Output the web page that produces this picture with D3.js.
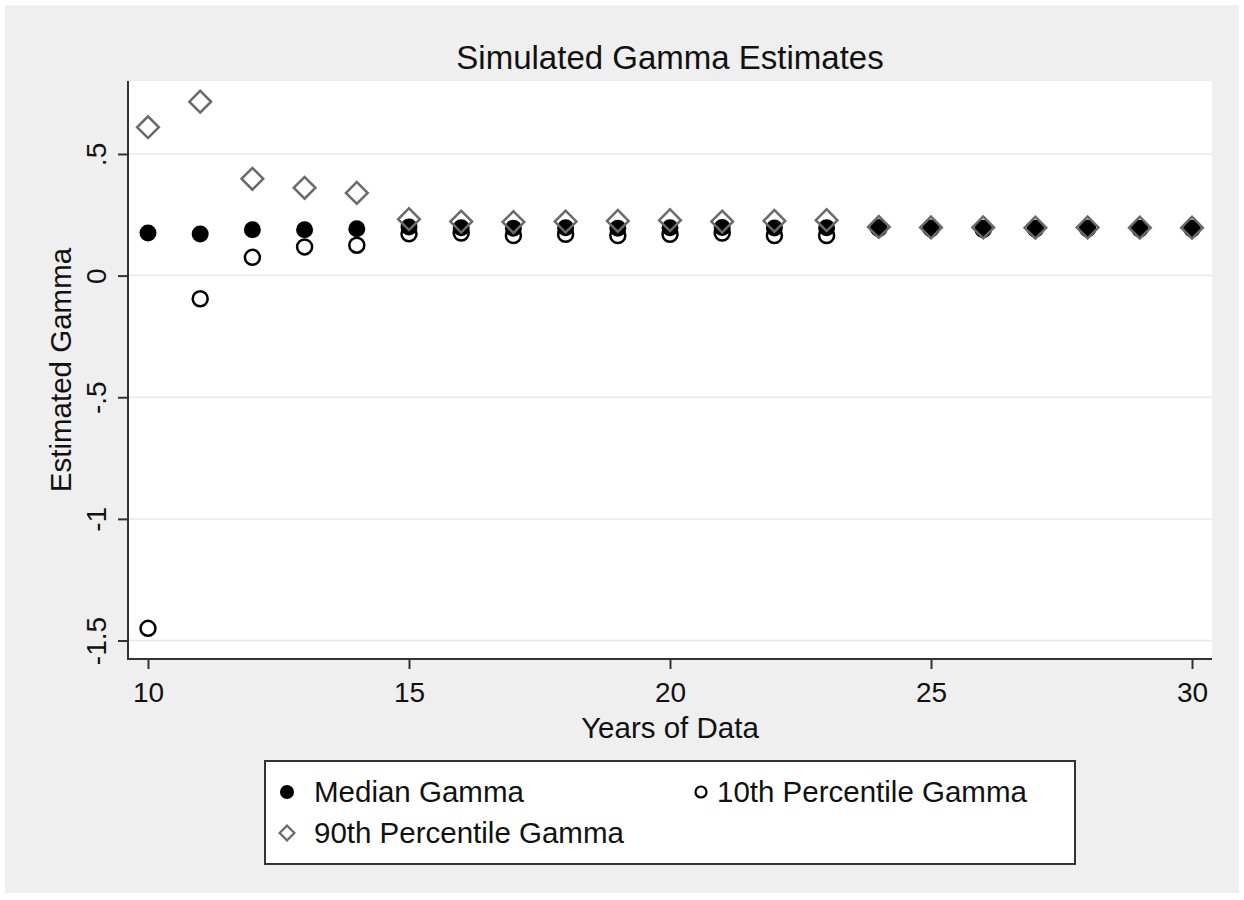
<!DOCTYPE html>
<html>
<head>
<meta charset="utf-8">
<script src="https://cdn.jsdelivr.net/npm/d3@7"></script>
<style>
  body { margin: 0; background: #ffffff; }
  svg { display: block; font-family: "Liberation Sans", Arial, Helvetica, sans-serif; }
</style>
</head>
<body>
<div id="chart"></div>
<script>
// chart values
const years = [10, 11, 12, 13, 14, 15, 16, 17, 18, 19, 20, 21, 22, 23, 24, 25, 26, 27, 28, 29, 30];
const medianGamma = [0.175, 0.171, 0.189, 0.189, 0.193, 0.200, 0.197, 0.195, 0.197, 0.195, 0.197, 0.198, 0.196, 0.197, 0.198, 0.196, 0.195, 0.195, 0.196, 0.195, 0.195];
const p10Gamma = [-1.45, -0.095, 0.075, 0.118, 0.125, 0.172, 0.175, 0.165, 0.170, 0.165, 0.170, 0.175, 0.165, 0.165, 0.194, 0.193, 0.190, 0.192, 0.193, 0.192, 0.192];
const p90Gamma = [0.61, 0.715, 0.398, 0.361, 0.340, 0.232, 0.222, 0.220, 0.222, 0.225, 0.228, 0.222, 0.225, 0.228, 0.200, 0.198, 0.198, 0.197, 0.198, 0.197, 0.197];
const xTicks = [10, 15, 20, 25, 30];
const yTicks = [0.5, 0, -0.5, -1, -1.5];
const yTickLabels = [".5", "0", "-.5", "-1", "-1.5"];
const seriesNames = ["Median Gamma", "10th Percentile Gamma", "90th Percentile Gamma"];

const W = 1244, H = 900;
const plot = { left: 128, right: 1212, top: 81, bottom: 659 };

const svg = d3.select("#chart").append("svg")
    .attr("width", W)
    .attr("height", H);

// outer (graph region) background
svg.append("rect")
    .attr("x", 5).attr("y", 5)
    .attr("width", W - 10).attr("height", H - 12)
    .attr("fill", "#efefef");

// plot region
svg.append("rect")
    .attr("x", plot.left).attr("y", plot.top)
    .attr("width", plot.right - plot.left).attr("height", plot.bottom - plot.top)
    .attr("fill", "#ffffff");

const x = d3.scaleLinear()
    .domain([9.617, 30.383])
    .range([plot.left, plot.right]);

const y = d3.scaleLinear()
    .domain([-1.576, 0.80])
    .range([plot.bottom, plot.top]);

// grid lines
svg.append("g")
    .selectAll("line")
    .data(yTicks)
    .join("line")
    .attr("x1", plot.left).attr("x2", plot.right)
    .attr("y1", d => y(d)).attr("y2", d => y(d))
    .attr("stroke", "#e8e8e8")
    .attr("stroke-width", 1.5);

// y axis
const yAxis = svg.append("g")
    .attr("transform", `translate(${plot.left},0)`)
    .call(d3.axisLeft(y).tickValues(yTicks).tickSize(10).tickSizeOuter(0).tickFormat((d, i) => yTickLabels[i]));
yAxis.select(".domain").attr("stroke", "#333").attr("stroke-width", 2)
    .attr("d", `M0,${plot.top}V${plot.bottom}`);
yAxis.selectAll(".tick line").attr("stroke", "#333").attr("stroke-width", 2);
yAxis.selectAll(".tick text")
    .attr("font-size", 28)
    .attr("fill", "#111")
    .attr("x", 0).attr("dy", 0)
    .attr("text-anchor", "middle")
    .attr("transform", "translate(-22,0) rotate(-90)");

// x axis
const xAxis = svg.append("g")
    .attr("transform", `translate(0,${plot.bottom})`)
    .call(d3.axisBottom(x).tickValues(xTicks).tickSize(10).tickSizeOuter(0));
xAxis.select(".domain").attr("stroke", "#333").attr("stroke-width", 2)
    .attr("d", `M${plot.left - 1},0H${plot.right}`);
xAxis.selectAll(".tick line").attr("stroke", "#333").attr("stroke-width", 2);
xAxis.selectAll(".tick text")
    .attr("font-size", 28)
    .attr("fill", "#111")
    .attr("y", 43).attr("dy", 0);

// titles
svg.append("text")
    .attr("x", 670).attr("y", 69)
    .attr("text-anchor", "middle")
    .attr("font-size", 33)
    .attr("fill", "#111")
    .text("Simulated Gamma Estimates");

svg.append("text")
    .attr("x", 670).attr("y", 738)
    .attr("text-anchor", "middle")
    .attr("font-size", 29.5)
    .attr("fill", "#111")
    .text("Years of Data");

svg.append("text")
    .attr("transform", `translate(71,${(plot.top + plot.bottom) / 2}) rotate(-90)`)
    .attr("text-anchor", "middle")
    .attr("font-size", 29.5)
    .attr("fill", "#111")
    .text("Estimated Gamma");

// markers
const diamond = d3.symbol().type(d3.symbolSquare).size(235);

const marks = svg.append("g");

marks.selectAll("circle.med")
    .data(years.map((yr, i) => ({ yr, v: medianGamma[i] })))
    .join("circle")
    .attr("class", "med")
    .attr("cx", d => x(d.yr)).attr("cy", d => y(d.v))
    .attr("r", 8.5)
    .attr("fill", "#000");

marks.selectAll("circle.p10")
    .data(years.map((yr, i) => ({ yr, v: p10Gamma[i] })))
    .join("circle")
    .attr("class", "p10")
    .attr("cx", d => x(d.yr)).attr("cy", d => y(d.v))
    .attr("r", 7.5)
    .attr("fill", "none")
    .attr("stroke", "#000")
    .attr("stroke-width", 2.5);

marks.selectAll("path.p90")
    .data(years.map((yr, i) => ({ yr, v: p90Gamma[i] })))
    .join("path")
    .attr("class", "p90")
    .attr("d", diamond)
    .attr("transform", d => `translate(${x(d.yr)},${y(d.v)}) rotate(45)`)
    .attr("fill", "none")
    .attr("stroke", "#6a6a6a")
    .attr("stroke-width", 2.5);

// legend
const legend = svg.append("g").attr("transform", "translate(265,761)");
legend.append("rect")
    .attr("width", 810).attr("height", 103)
    .attr("fill", "#fff")
    .attr("stroke", "#333")
    .attr("stroke-width", 2);

const legendItems = [
    { name: seriesNames[0], kind: "med", cx: 22, cy: 31, tx: 49 },
    { name: seriesNames[1], kind: "p10", cx: 436, cy: 31, tx: 452 },
    { name: seriesNames[2], kind: "p90", cx: 22, cy: 72, tx: 49 }
];

legendItems.forEach(item => {
    const g = legend.append("g");
    if (item.kind === "med") {
        g.append("circle").attr("cx", item.cx).attr("cy", item.cy).attr("r", 7).attr("fill", "#000");
    } else if (item.kind === "p10") {
        g.append("circle").attr("cx", item.cx).attr("cy", item.cy).attr("r", 5.5)
            .attr("fill", "none").attr("stroke", "#000").attr("stroke-width", 2.2);
    } else {
        g.append("path")
            .attr("d", d3.symbol().type(d3.symbolSquare).size(110)())
            .attr("transform", `translate(${item.cx},${item.cy}) rotate(45)`)
            .attr("fill", "none").attr("stroke", "#6a6a6a").attr("stroke-width", 2.2);
    }
    g.append("text")
        .attr("x", item.tx).attr("y", item.cy + 10)
        .attr("font-size", 29.5)
        .attr("fill", "#111")
        .text(item.name);
});
</script>
</body>
</html>
